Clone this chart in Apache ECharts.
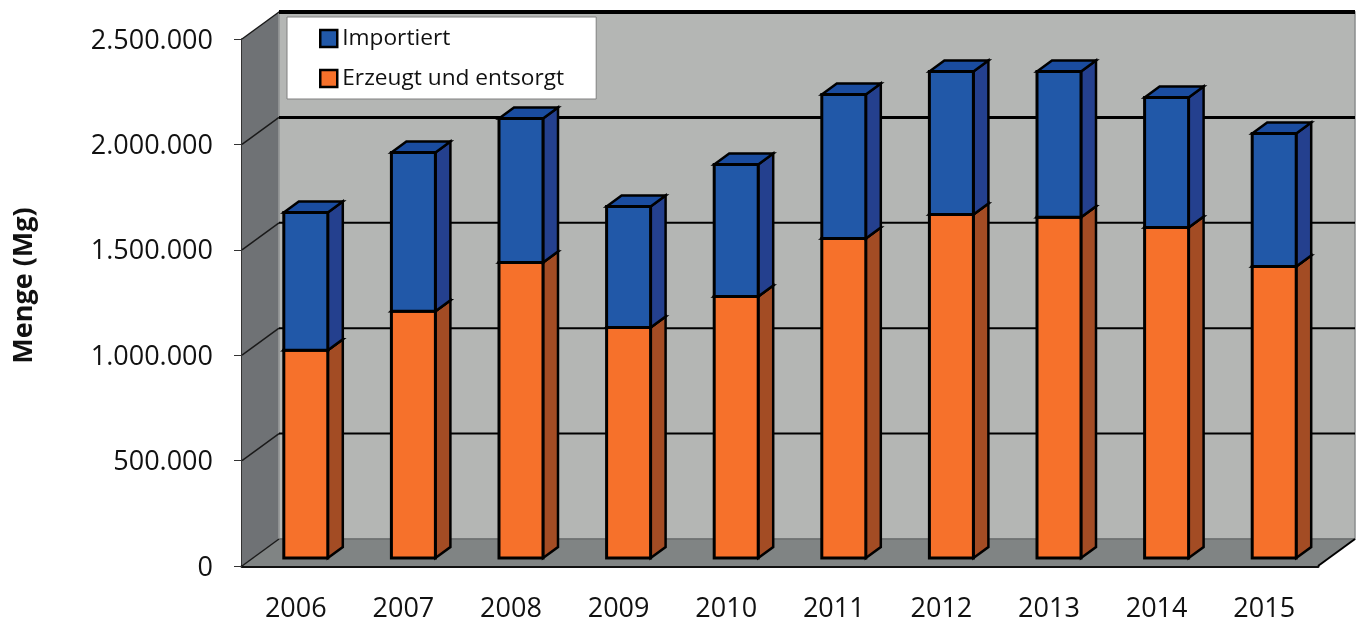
<!DOCTYPE html>
<html>
<head>
<meta charset="utf-8">
<style>
	html, body { margin: 0; padding: 0; background: #fff; }
	#chart { width: 1360px; height: 621px; }
</style>
<script src="https://cdn.jsdelivr.net/npm/echarts@6/dist/echarts.min.js"></script>
</head>
<body>
<div id="chart"></div>
<script>
	const years = ["2006", "2007", "2008", "2009", "2010", "2011", "2012", "2013", "2014", "2015"];
	const erzeugt = [985000, 1170000, 1402000, 1094000, 1241000, 1516000, 1630000, 1616000, 1568000, 1383000];
	const importiert = [654000, 754000, 683000, 574000, 626000, 683000, 678000, 692000, 617000, 631000];
	const yTicks = [0, 500000, 1000000, 1500000, 2000000, 2500000];

	const fontName = '"Open Sans", "Noto Sans", sans-serif';

	// pseudo 3d look
	const wallDx = 37;
	const wallDy = -27;
	const barOffsetX = 10;
	const barOffsetY = -8;
	const barHalf = 22;
	const barDx = 15;
	const barDy = -11;

	const poly = (points, fill, stroke, lineWidth) => ({
		type: "polygon",
		shape: { points },
		style: { fill, stroke: stroke || "none", lineWidth: lineWidth || 0, lineJoin: "miter" }
	});

	const line = (x1, y1, x2, y2, stroke, lineWidth) => ({
		type: "line",
		shape: { x1, y1, x2, y2 },
		style: { stroke, lineWidth }
	});

	const renderWalls = (params, api) => {
		const sys = params.coordSys;
		const left = sys.x;
		const right = sys.x + sys.width;
		const y0 = api.coord([0, 0])[1];
		const yMax = api.coord([0, yTicks[yTicks.length - 1]])[1];
		return {
			type: "group",
			children: [
				poly([[left + wallDx, yMax + wallDy], [right + wallDx, yMax + wallDy], [right + wallDx, y0 + wallDy], [left + wallDx, y0 + wallDy]], "#b4b6b4", "#8a8d8d", 1.5),
				poly([[left, yMax], [left + wallDx, yMax + wallDy], [left + wallDx, y0 + wallDy], [left, y0]], "#6f7275"),
				poly([[left, y0], [left + wallDx, y0 + wallDy], [right + wallDx, y0 + wallDy], [right, y0]], "#808484"),
				line(left + wallDx, yMax + wallDy, left + wallDx, y0 + wallDy, "#9a9d9d", 1.5),
				line(left + wallDx, y0 + wallDy, right + wallDx, y0 + wallDy, "#6b6e6e", 1.5),
				line(right, y0, right + wallDx, y0 + wallDy, "#000", 2)
			]
		};
	};

	const renderGridLine = (params, api) => {
		const sys = params.coordSys;
		const left = sys.x;
		const right = sys.x + sys.width;
		const value = api.value(0);
		const y = api.coord([0, value])[1];
		const isFloor = value === 0;
		const width = value === 2500000 ? 4 : value === 2000000 ? 3 : 2;
		const children = [line(left, y, left + wallDx, y + wallDy, "#1a1a1a", 1.5)];
		if (!isFloor) {
			children.push(line(left + wallDx, y + wallDy, right + wallDx, y + wallDy, "#000", width));
		}
		return { type: "group", children };
	};

	const makeBarRenderer = (frontColor, sideColor, topColor) => (params, api) => {
		const center = api.coord([api.value(0), 0])[0] + barOffsetX;
		const yLow = api.coord([0, api.value(1)])[1] + barOffsetY;
		const yHigh = api.coord([0, api.value(2)])[1] + barOffsetY;
		const x1 = center - barHalf;
		const x2 = center + barHalf;
		return {
			type: "group",
			children: [
				poly([[x2, yLow], [x2 + barDx, yLow + barDy], [x2 + barDx, yHigh + barDy], [x2, yHigh]], sideColor, "#000", 2.5),
				poly([[x1, yHigh], [x1 + barDx, yHigh + barDy], [x2 + barDx, yHigh + barDy], [x2, yHigh]], topColor, "#000", 2.5),
				poly([[x1, yLow], [x2, yLow], [x2, yHigh], [x1, yHigh]], frontColor, "#000", 3)
			]
		};
	};

	const chart = echarts.init(document.getElementById("chart"));

	chart.setOption({
		animation: false,
		backgroundColor: "#fff",
		textStyle: { fontFamily: fontName },
		grid: { left: 242, top: 39, width: 1076, height: 527, outerBoundsMode: "none" },
		legend: {
			left: 287,
			top: 17,
			orient: "vertical",
			backgroundColor: "#fff",
			borderColor: "#808080",
			borderWidth: 1,
			padding: [10, 32, 9, 32],
			itemGap: 17,
			itemWidth: 17,
			itemHeight: 17,
			selectedMode: false,
			textStyle: { fontFamily: fontName, fontSize: 22.7, color: "#111", lineHeight: 17 },
			data: [
				{ name: "Importiert", icon: "rect", itemStyle: { color: "#2158a8", borderColor: "#000", borderWidth: 2.5 } },
				{ name: "Erzeugt und entsorgt", icon: "rect", itemStyle: { color: "#f6712b", borderColor: "#000", borderWidth: 2.5 } }
			]
		},
		xAxis: {
			type: "category",
			data: years,
			axisLine: { lineStyle: { color: "#111", width: 3 } },
			axisTick: { length: 10, lineStyle: { color: "#333", width: 1 } },
			axisLabel: { fontFamily: fontName, fontSize: 27, color: "#111", margin: 30 }
		},
		yAxis: {
			type: "value",
			min: 0,
			max: 2500000,
			interval: 500000,
			name: "Menge (Mg)",
			nameLocation: "middle",
			nameGap: 204,
			nameRotate: 90,
			nameTextStyle: { fontFamily: fontName, fontSize: 27, fontWeight: "bold", color: "#111", padding: [0, 0, 0, 34] },
			axisLine: { show: true, lineStyle: { color: "#333", width: 2 } },
			axisTick: { show: true, length: 8, lineStyle: { color: "#333", width: 1 } },
			splitLine: { show: false },
			axisLabel: {
				margin: 29,
				formatter: value => "{v|" + String(value).replace(/\B(?=(\d{3})+$)/g, ".") + "}",
				rich: {
					v: { fontFamily: fontName, fontSize: 27, color: "#111", padding: [4, 0, 0, 0] }
				}
			}
		},
		series: [
			{
				name: "walls",
				type: "custom",
				silent: true,
				z: 1,
				data: [0],
				encode: { y: 0 },
				renderItem: renderWalls
			},
			{
				name: "gridlines",
				type: "custom",
				silent: true,
				z: 1,
				data: yTicks.map(v => [v]),
				encode: { y: 0 },
				renderItem: renderGridLine
			},
			{
				name: "Erzeugt und entsorgt",
				type: "custom",
				z: 2,
				itemStyle: { color: "#f6712b" },
				encode: { x: 0, y: [1, 2] },
				data: erzeugt.map((v, i) => [i, 0, v]),
				renderItem: makeBarRenderer("#f6712b", "#a34c24", "#c25a26")
			},
			{
				name: "Importiert",
				type: "custom",
				z: 3,
				itemStyle: { color: "#2158a8" },
				encode: { x: 0, y: [1, 2] },
				data: importiert.map((v, i) => [i, erzeugt[i], erzeugt[i] + v]),
				renderItem: makeBarRenderer("#2158a8", "#24408e", "#1a4c9f")
			}
		]
	});
</script>
</body>
</html>
